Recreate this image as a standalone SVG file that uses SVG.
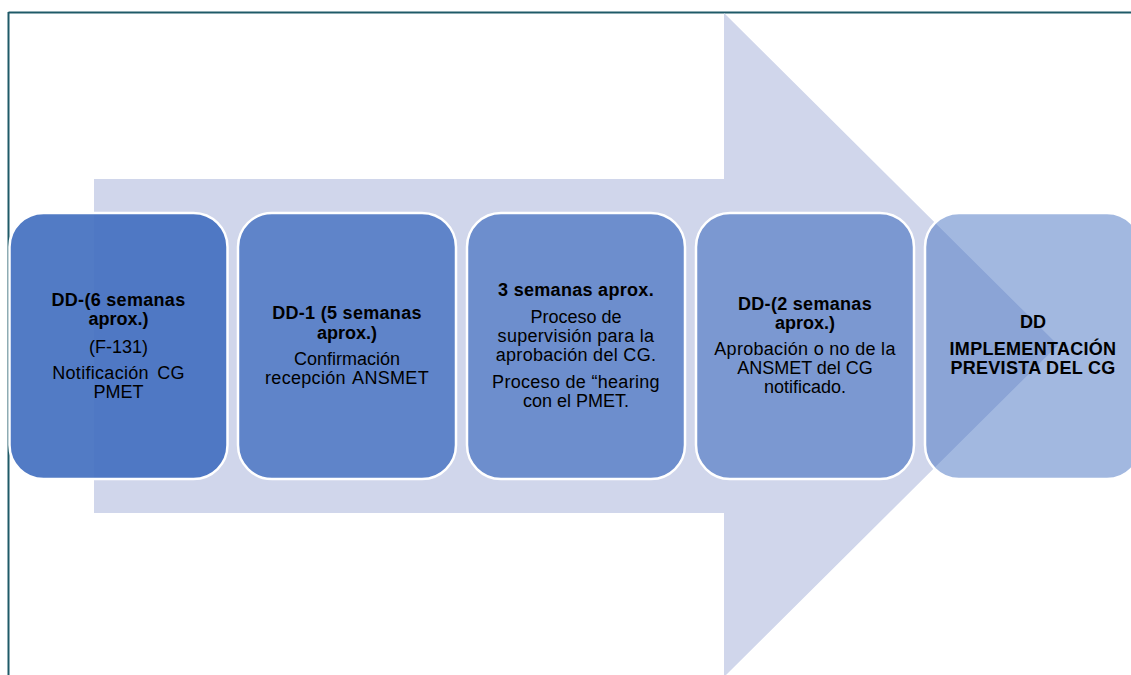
<svg xmlns="http://www.w3.org/2000/svg" width="1131" height="675" viewBox="0 0 1131 675">
<style>
.box{fill:#4571c1;stroke:#ffffff;stroke-width:2.5}
text{font-family:"Liberation Sans",Arial,sans-serif;font-size:18px;fill:#000;text-anchor:middle}
.b{font-weight:bold}
</style>
<rect width="1131" height="675" fill="#ffffff"/>
<g id="frame" stroke="#1f5a68" stroke-width="2" fill="none">
<line x1="8.5" y1="12.5" x2="1131" y2="12.5"/>
<line x1="8.5" y1="12" x2="8.5" y2="675"/>
</g>
<g id="connectors">
<polygon id="arrow" points="94,179 724,179 724,13 1058,345 724,677 724,513 94,513" fill="#d0d6eb"/>
</g>
<g id="n1">
<rect class="box" x="9.5" y="213" width="218" height="266" rx="34" fill-opacity="0.93"/>
<text x="118.5" y="306" class="b" letter-spacing="0.3">DD-(6 semanas</text>
<text x="118.5" y="325" class="b">aprox.)</text>
<text x="118.5" y="353">(F-131)</text>
<text x="118.5" y="379" word-spacing="3" letter-spacing="0.3">Notificación CG</text>
<text x="118.5" y="398">PMET</text>
</g>
<g id="n2">
<rect class="box" x="238" y="213" width="218" height="266" rx="34" fill-opacity="0.82"/>
<text x="347" y="319" class="b" letter-spacing="0.3">DD-1 (5 semanas</text>
<text x="347" y="339" class="b">aprox.)</text>
<text x="347" y="365">Confirmación</text>
<text x="347" y="384" word-spacing="2" letter-spacing="0.3">recepción ANSMET</text>
</g>
<g id="n3">
<rect class="box" x="467" y="213" width="218" height="266" rx="34" fill-opacity="0.71"/>
<text x="576" y="296" class="b" letter-spacing="0.3">3 semanas aprox.</text>
<text x="576" y="323">Proceso de</text>
<text x="576" y="342" letter-spacing="0.3">supervisión para la</text>
<text x="576" y="361" letter-spacing="0.3">aprobación del CG.</text>
<text x="576" y="388" letter-spacing="0.3">Proceso de “hearing</text>
<text x="576" y="407">con el PMET.</text>
</g>
<g id="n4">
<rect class="box" x="696" y="213" width="218" height="266" rx="34" fill-opacity="0.61"/>
<text x="805" y="310" class="b" letter-spacing="0.3">DD-(2 semanas</text>
<text x="805" y="329" class="b">aprox.)</text>
<text x="805" y="355" letter-spacing="0.3">Aprobación o no de la</text>
<text x="805" y="374">ANSMET del CG</text>
<text x="805" y="393">notificado.</text>
</g>
<g id="n5">
<rect class="box" x="925" y="213" width="216" height="266" rx="34" fill-opacity="0.5"/>
<text x="1033" y="328" class="b">DD</text>
<text x="1033" y="355" class="b" letter-spacing="0.3">IMPLEMENTACIÓN</text>
<text x="1033" y="374" class="b" letter-spacing="0.3">PREVISTA DEL CG</text>
</g>
</svg>
